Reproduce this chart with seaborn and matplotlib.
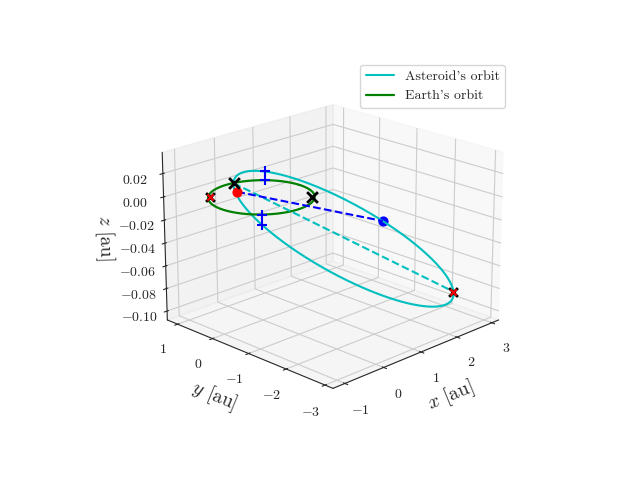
import numpy as np
import matplotlib
matplotlib.use("Agg")
import matplotlib.pyplot as plt
import seaborn as sns

sns.set_style("white")
plt.rcParams.update({"font.family": "serif", "font.serif": ["cmr10"],
                     "mathtext.fontset": "cm", "axes.formatter.use_mathtext": True,
                     "axes.unicode_minus": True})

# orbital parameters
q_ast = 0.52
Q_ast = 3.65
peri_angle_deg = 136
tilt_along = 0.023
tilt_perp = 0.01
r_earth = 1.0
earth_pos = [-0.12, 0.54, 0.0]
ast_ecc_anom_deg = 112
node_k = [0.67, -0.67, 0.0]
node_r = [-0.68, 0.68, 0.0]
plus_earth_x = [0.73, -0.68]
plus_earth_y = [0.68, -0.73]
plus_target_xy = 0.05

a_ast = (q_ast + Q_ast) / 2
e_ast = (Q_ast - q_ast) / (Q_ast + q_ast)
b_ast = a_ast * np.sqrt(1 - e_ast**2)
pa = np.deg2rad(peri_angle_deg)
p = np.array([np.cos(pa), np.sin(pa)])
w = np.array([np.sin(pa), -np.cos(pa)])
E = np.linspace(0, 2 * np.pi, 600)
along = a_ast * np.cos(E) - a_ast * e_ast
perp = b_ast * np.sin(E)
ax_x = along * p[0] + perp * w[0]
ax_y = along * p[1] + perp * w[1]
ax_z = tilt_along * along + tilt_perp * perp

t = np.linspace(0, 2 * np.pi, 400)
ex = r_earth * np.cos(t)
ey = r_earth * np.sin(t)
ez = np.zeros_like(t)

peri = np.array([ax_x[0], ax_y[0], ax_z[0]])
i_aph = np.argmin(np.abs(E - np.pi))
aph = np.array([ax_x[i_aph], ax_y[i_aph], ax_z[i_aph]])
i_ast = np.argmin(np.abs(E - np.deg2rad(ast_ecc_anom_deg)))
ast_pos = [ax_x[i_ast], ax_y[i_ast], ax_z[i_ast]]
d = np.abs(ax_x - ax_y - plus_target_xy)
upper = np.where(np.sin(E) > 0)[0]
lower = np.where(np.sin(E) < 0)[0]
iu = upper[np.argmin(d[upper])]
il = lower[np.argmin(d[lower])]
plus_x = [ax_x[iu], ax_x[il]] + plus_earth_x
plus_y = [ax_y[iu], ax_y[il]] + plus_earth_y
plus_z = [ax_z[iu], ax_z[il], 0, 0]

fig = plt.figure(figsize=(6.4, 4.8), dpi=100)
ax = fig.add_subplot(111, projection="3d")
ax.view_init(elev=20, azim=-135)
ax.plot(ax_x, ax_y, ax_z, color="c", label="Asteroid's orbit")
ax.plot(ex, ey, ez, color="g", lw=1.6, label="Earth's orbit")
ax.plot([peri[0], aph[0]], [peri[1], aph[1]], [peri[2], aph[2]], "c--")
ax.plot([earth_pos[0], ast_pos[0]], [earth_pos[1], ast_pos[1]], [earth_pos[2], ast_pos[2]], "b--")
ax.scatter(*earth_pos, color="r", s=40, depthshade=False)
ax.scatter(*ast_pos, color="b", s=40, depthshade=False)
ax.scatter([peri[0], node_k[0]], [peri[1], node_k[1]], [peri[2], node_k[2]], marker="x", color="k", s=60, linewidths=2, depthshade=False)
ax.scatter([aph[0], node_r[0]], [aph[1], node_r[1]], [aph[2], node_r[2]], marker="x", color="k", s=40, linewidths=2, depthshade=False)
ax.scatter([aph[0], node_r[0]], [aph[1], node_r[1]], [aph[2], node_r[2]], marker="x", color="r", s=20, depthshade=False)
ax.scatter(plus_x, plus_y, plus_z, marker="+", color="b", s=60, linewidths=1.5, depthshade=False)

ax.set_xlim(-1.3, 3.2)
ax.set_ylim(-3.2, 1.3)
ax.set_zlim(-0.108, 0.038)
ax.set_xticks([-1, 0, 1, 2, 3])
ax.set_yticks([-3, -2, -1, 0, 1])
ax.set_zticks([-0.10, -0.08, -0.06, -0.04, -0.02, 0.00, 0.02])
ax.set_xlabel(r"$x$ [au]", fontsize=14)
ax.set_ylabel(r"$y$ [au]", fontsize=14)
ax.set_zlabel(r"$z$ [au]", fontsize=14)
fig.legend(loc="upper right", bbox_to_anchor=(0.80, 0.88))
fig.savefig("out.png", dpi=100)
